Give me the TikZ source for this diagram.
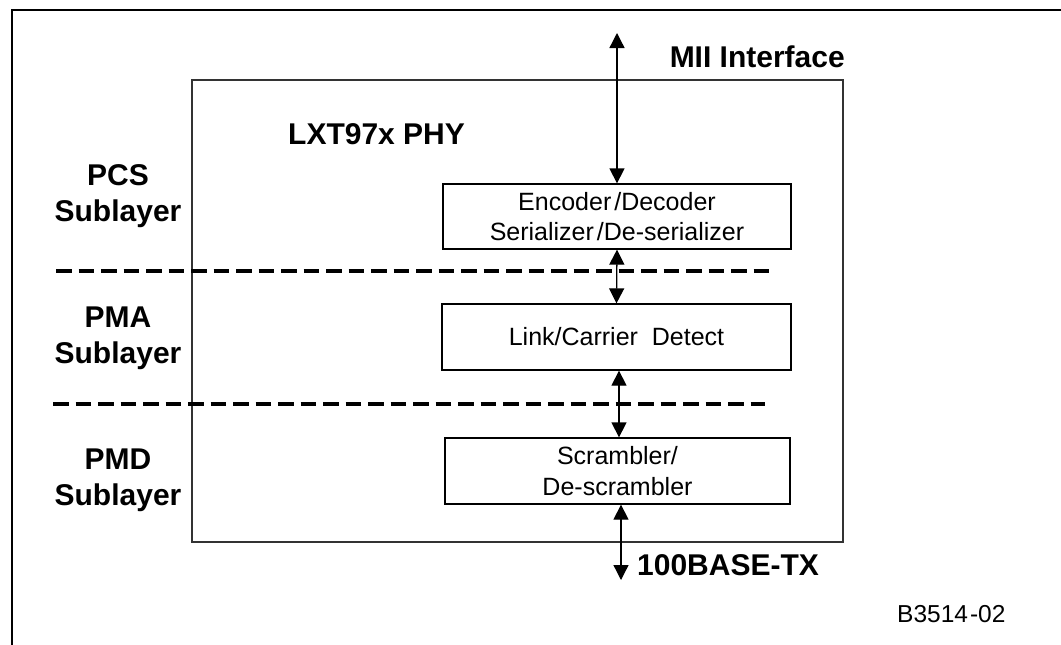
\documentclass[tikz,border=0pt]{standalone}
\usepackage{fontspec}
\setmainfont{Liberation Sans}
\usetikzlibrary{arrows.meta}
\begin{document}
\begin{tikzpicture}[x=1pt,y=-1pt,
  blk/.style={draw, line width=1.3pt, inner sep=0pt, align=center, font={\fontsize{25}{30.5}\selectfont}},
  lbl/.style={font={\fontsize{30}{36}\selectfont\bfseries}, align=center, inner sep=0pt},
  biarrow/.style={arrows={Triangle[length=15pt,width=15pt]-Triangle[length=15pt,width=15pt]}, line width=1.3pt},
  layerline/.style={line width=3.5pt, dash pattern=on 15.5pt off 7pt}
]
\useasboundingbox (0,0) rectangle (1061,645);
% outer frame (top and left)
\draw[line width=2pt] (12,645) -- (12,10) -- (1061,10);
% PHY frame
\draw[line width=1.2pt, black!80] (192,80) rectangle (843,542);
% layer separators
\coordinate (d1a) at (56,271);
\coordinate (d1b) at (770,271);
\coordinate (d2a) at (53,404);
\coordinate (d2b) at (765,404);
\draw[layerline] (d1a) -- (d1b);
\draw[layerline] (d2a) -- (d2b);
% blocks
\node[blk, minimum width=348pt, minimum height=65pt] (enc) at (617,216.5)
  {Encoder\kern3pt/Decoder\\Serializer\kern3pt/De-serializer};
\node[blk, minimum width=349pt, minimum height=66pt] (link) at (616.5,337)
  {Link/Carrier\ \ Detect};
\node[blk, minimum width=345pt, minimum height=66pt] (scr) at (617.5,471)
  {Scrambler/\\De-scrambler};
% connectors
\coordinate (miiend) at (617,33);
\coordinate (txend) at (621,580);
\draw[biarrow] (miiend) -- (enc.north);
\draw[biarrow] (enc.south) -- (link.north);
\draw[biarrow] ([xshift=2.5pt]link.south) -- ([xshift=1.5pt]scr.north);
\draw[biarrow] ([xshift=3.5pt]scr.south) -- (txend);
% labels
\node[lbl] (pcs) at (118,196) {PCS\\Sublayer};
\node[lbl] (pma) at (118,338) {PMA\\Sublayer};
\node[lbl] (pmd) at (118,480) {PMD\\Sublayer};
\node[lbl, anchor=base west] (phy) at (288,144) {LXT97x PHY};
\node[lbl, anchor=base east] (mii) at (845,67) {MII Interface};
\node[lbl, anchor=base west] (tx) at (637,575) {100BASE-TX};
\node[font={\fontsize{24.5}{28}\selectfont}, anchor=base west, inner sep=0pt] (fig) at (897,622) {B3514\kern2pt-02};
\end{tikzpicture}
\end{document}
